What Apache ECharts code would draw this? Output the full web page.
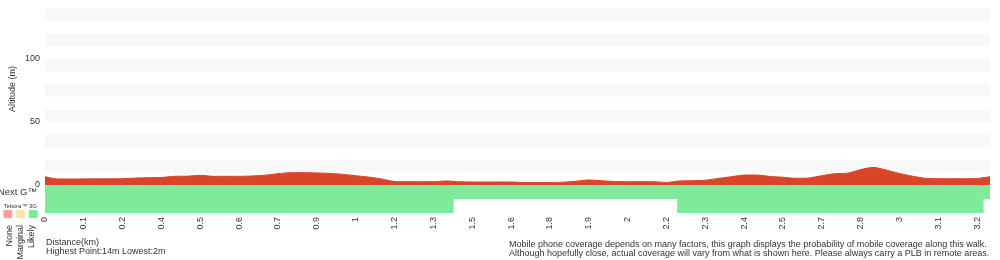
<!DOCTYPE html>
<html>
<head>
<meta charset="utf-8">
<script src="https://cdn.jsdelivr.net/npm/echarts@6/dist/echarts.min.js"></script>
<style>
  html, body { margin: 0; padding: 0; background: #fff; }
  #main { width: 1000px; height: 260px; }
</style>
</head>
<body>
<div id="main"></div>
<script>
// altitude (m) at each sample point along the walk
const altitude = [
  6.6, 4.8, 4.8, 4.8, 4.9, 4.9, 5.0, 5.5, 5.8, 6.0,
  6.9, 7.0, 7.7, 6.9, 6.9, 6.9, 7.2, 7.8, 9.0, 9.8,
  9.8, 9.6, 9.2, 8.5, 7.4, 6.3, 4.8, 2.8, 2.6, 2.6,
  2.6, 3.2, 2.6, 2.4, 2.4, 2.4, 2.4, 2.0, 2.0, 2.0,
  2.2, 3.0, 4.0, 3.4, 2.8, 2.6, 2.6, 2.6, 2.0, 3.2,
  3.4, 3.8, 5.2, 6.6, 7.9, 7.9, 6.8, 6.2, 5.3, 5.6,
  7.4, 9.0, 9.4, 12.2, 14.0, 11.8, 9.2, 7.0, 5.4, 5.0,
  5.0, 5.0, 5.2, 6.6
]
// distance labels (km), one on every 3rd sample point
const distanceTicks = [
  '0', '0.1', '0.2', '0.4', '0.5', '0.6', '0.7', '0.9', '1', '1.2', '1.3', '1.5', '1.6',
  '1.8', '1.9', '2', '2.2', '2.3', '2.4', '2.5', '2.7', '2.8', '3', '3.1', '3.2'
]
const tickEvery = 3

// coverage rows: runs of cells [from, to, level], level 0 none / 1 marginal / 2 likely
const coverageCells = 148
const networks = ['Telstra™ 3G', 'Next G™']
const telstra3GRuns = [[0, 63, 2], [99, 146, 2]]
const nextGRuns = [[0, 147, 2]]
const levels = ['None', 'Marginal', 'Likely']
const levelColors = ['#ff9c9c', '#ffe4a8', '#7deb9a']

const red = '#da4428'
const textColor = '#333'

// [from, to, row, level]
let coverageData = []
;[telstra3GRuns, nextGRuns].forEach((runs, row) => {
  runs.forEach(([from, to, level]) => coverageData.push([from, to, row, level]))
})

const chart = echarts.init(document.getElementById('main'))

chart.setOption({
  animation: false,
  textStyle: { fontFamily: 'Liberation Sans, Arial, sans-serif' },
  grid: [
    { left: 45, right: 10, top: 8.6, height: 176.4, outerBoundsMode: 'none' },
    { left: 45, right: 10, top: 185, height: 28, outerBoundsMode: 'none' }
  ],
  xAxis: [
    {
      type: 'category',
      gridIndex: 0,
      boundaryGap: false,
      data: altitude.map((v, i) => i),
      axisLine: { show: false },
      axisTick: { show: false },
      splitLine: { show: false },
      axisLabel: {
        interval: tickEvery - 1,
        rotate: 90,
        margin: 32,
        fontSize: 9,
        color: textColor,
        formatter: (v, i) => distanceTicks[i / tickEvery]
      }
    },
    {
      type: 'category',
      gridIndex: 1,
      data: Array.from({ length: coverageCells }, (v, i) => i),
      show: false
    }
  ],
  yAxis: [
    {
      type: 'value',
      gridIndex: 0,
      min: 0,
      max: 140,
      interval: 10,
      axisLine: { show: false },
      axisTick: { show: false },
      splitLine: { show: false },
      splitArea: {
        show: true,
        areaStyle: { color: ['rgba(255,255,255,0)', '#f8f8f8'] }
      },
      axisLabel: {
        fontSize: 9,
        color: textColor,
        margin: 5,
        formatter: v => (v % 50 === 0 && v <= 100) ? v : ''
      }
    },
    {
      type: 'category',
      gridIndex: 1,
      data: networks,
      axisLine: { show: false },
      axisTick: { show: false },
      axisLabel: {
        interval: 0,
        margin: 8,
        color: textColor,
        formatter: (v, i) => i === 1 ? '{big|' + v + '}' : '{small|' + v + '}',
        rich: {
          big: { fontSize: 9.5, color: textColor },
          small: { fontSize: 6, color: textColor }
        }
      }
    }
  ],
  visualMap: {
    type: 'piecewise',
    show: false,
    seriesIndex: 1,
    dimension: 3,
    pieces: levels.map((l, i) => ({ value: i, label: l, color: levelColors[i] }))
  },
  series: [
    {
      type: 'line',
      xAxisIndex: 0,
      yAxisIndex: 0,
      data: altitude,
      showSymbol: false,
      smooth: 0.2,
      lineStyle: { color: red, width: 1 },
      areaStyle: { color: red, opacity: 1 }
    },
    {
      // one rect per run of cells
      type: 'custom',
      xAxisIndex: 1,
      yAxisIndex: 1,
      data: coverageData,
      encode: { x: [0, 1], y: 2 },
      renderItem: (params, api) => {
        const start = api.coord([api.value(0), api.value(2)])
        const end = api.coord([api.value(1), api.value(2)])
        const size = api.size([1, 1])
        return {
          type: 'rect',
          shape: {
            x: start[0] - size[0] / 2,
            y: start[1] - size[1] / 2,
            width: end[0] - start[0] + size[0],
            height: size[1]
          },
          style: { fill: api.visual('color') }
        }
      }
    }
  ],
  graphic: [
    {
      type: 'text', x: 13, y: 89, rotation: Math.PI / 2,
      style: { text: 'Altitude (m)', fontSize: 9, fill: textColor, align: 'center', verticalAlign: 'middle', fontFamily: 'Liberation Sans' }
    },
    // coverage key
    ...levelColors.map((c, i) => ({
      type: 'rect',
      shape: { x: 3.5 + i * 12.7, y: 210, width: 8.8, height: 8 },
      style: { fill: c }
    })),
    ...levels.map((l, i) => ({
      type: 'text',
      x: 9.5 + i * 11.2,
      y: 225,
      rotation: Math.PI / 2,
      style: { text: l, fontSize: 9, fill: textColor, align: 'right', verticalAlign: 'middle', fontFamily: 'Liberation Sans' }
    })),
    {
      type: 'text', x: 46, y: 242.5,
      style: { text: 'Distance(km)', fontSize: 9, fill: textColor, verticalAlign: 'middle', fontFamily: 'Liberation Sans' }
    },
    {
      type: 'text', x: 46, y: 251.5,
      style: { text: 'Highest Point:14m Lowest:2m', fontSize: 9, fill: textColor, verticalAlign: 'middle', fontFamily: 'Liberation Sans' }
    },
    {
      type: 'text', x: 509, y: 244.5,
      style: { text: 'Mobile phone coverage depends on many factors, this graph displays the probability of mobile coverage along this walk.', fontSize: 9, fill: textColor, verticalAlign: 'middle', fontFamily: 'Liberation Sans' }
    },
    {
      type: 'text', x: 509, y: 254,
      style: { text: 'Although hopefully close, actual coverage will vary from what is shown here. Please always carry a PLB in remote areas.', fontSize: 9, fill: textColor, verticalAlign: 'middle', fontFamily: 'Liberation Sans' }
    }
  ]
})
</script>
</body>
</html>
